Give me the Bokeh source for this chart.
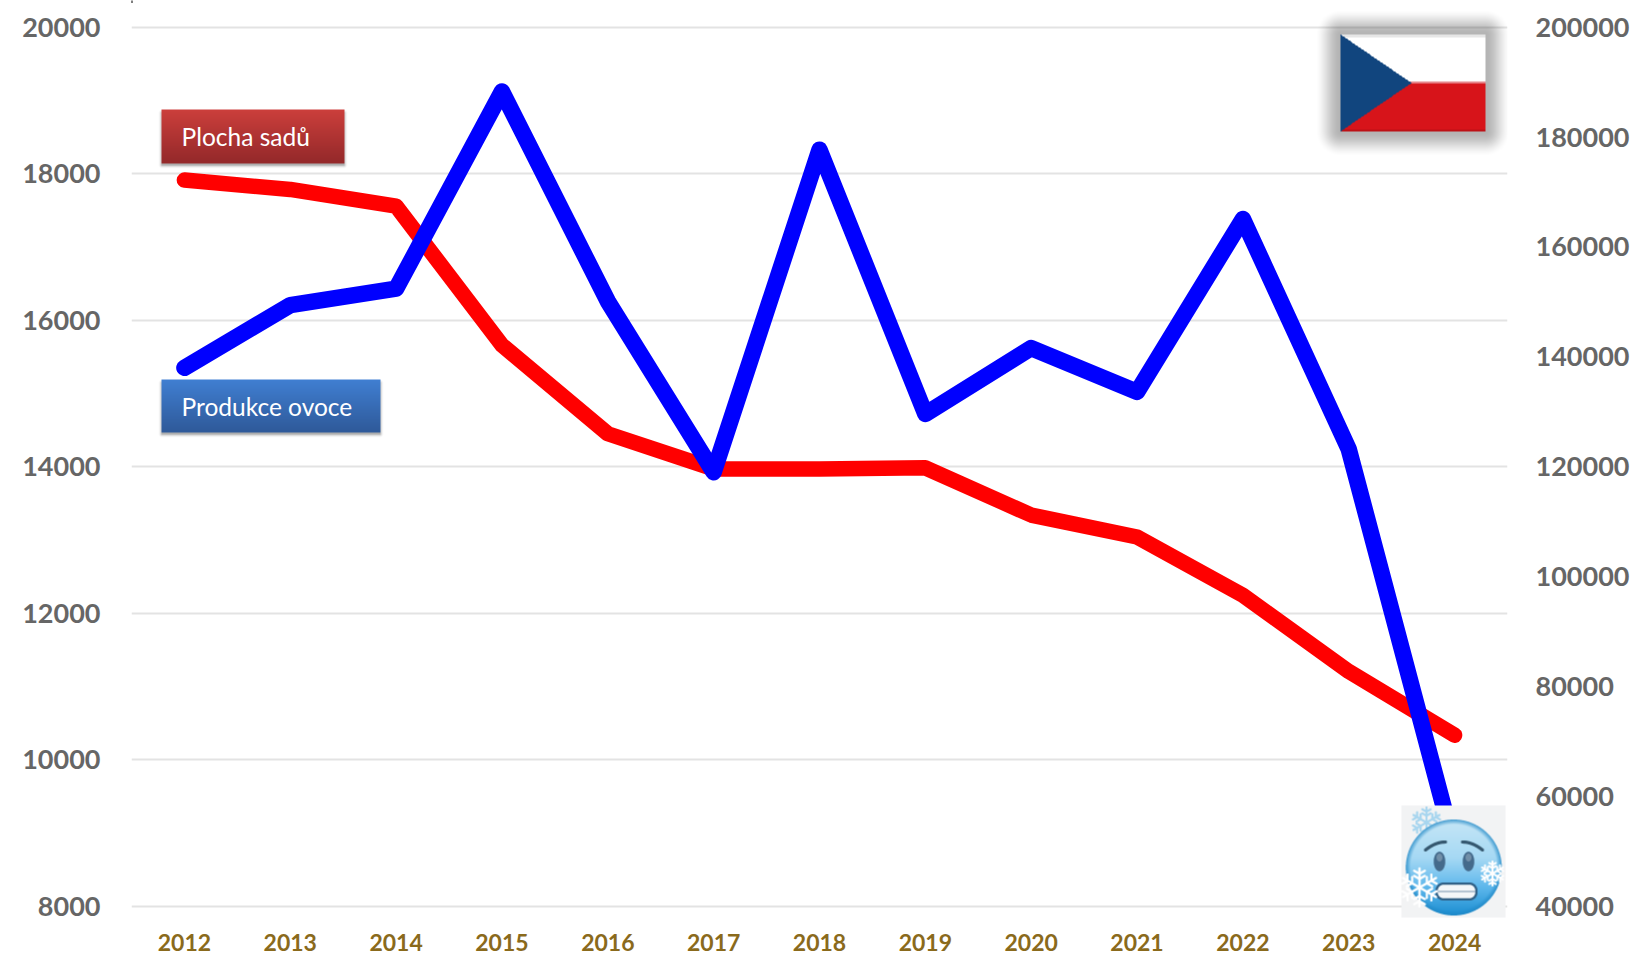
import numpy as np
from bokeh.embed import file_html
from bokeh.resources import INLINE
from bokeh.plotting import figure
from bokeh.models import Range1d, LinearAxis, FixedTicker, NumeralTickFormatter, Label, PolyAnnotation

years = [2012, 2013, 2014, 2015, 2016, 2017, 2018, 2019, 2020, 2021, 2022, 2023, 2024]
plocha_sadu = [17913, 17785, 17557, 15660, 14450, 13970, 13970, 13985, 13340, 13040, 12245, 11205, 10335]
produkce_ovoce = [138000, 149400, 152400, 188300, 150100, 119000, 177700, 129600, 141600, 133600, 165100, 123200, 50600]
left_ticks = [8000, 10000, 12000, 14000, 16000, 18000, 20000]
right_ticks = [40000, 60000, 80000, 100000, 120000, 140000, 160000, 180000, 200000]
label_red = "Plocha sadů"
label_blue = "Produkce ovoce"

# page geometry (pixels in the picture)
PX_L, PX_R = 131.0, 1507.0
PY_TOP, PY_BOT = 0.0, 918.0
PY_20K, PY_8K = 26.7, 905.7
FIG_W, FIG_H = 1637, 958


def yval(py):
    return 8000 + (PY_8K - py) * 12000 / (PY_8K - PY_20K)


def yval2(py):
    return 40000 + (PY_8K - py) * 160000 / (PY_8K - PY_20K)


def xval(px):
    return 2011.5 + (px - PX_L) * 13 / (PX_R - PX_L)


p = figure(width=FIG_W, height=FIG_H, output_backend="svg", toolbar_location=None,
           x_range=Range1d(2011.5, 2024.5), y_range=Range1d(yval(PY_BOT), yval(PY_TOP)),
           frame_width=int(PX_R - PX_L), frame_height=int(PY_BOT - PY_TOP),
           min_border_left=int(PX_L), min_border_right=int(FIG_W - PX_R),
           min_border_top=0, min_border_bottom=int(FIG_H - PY_BOT))
p.outline_line_color = None
p.background_fill_color = "white"
p.xgrid.visible = False
p.ygrid.ticker = FixedTicker(ticks=left_ticks)
p.ygrid.grid_line_color = "#e3e3e3"
p.ygrid.grid_line_width = 2

p.extra_y_ranges = {"right": Range1d(yval2(PY_BOT), yval2(PY_TOP))}
right = LinearAxis(y_range_name="right")
p.add_layout(right, "right")

for ax, ticks, standoff in ((p.yaxis[0], left_ticks, 25), (right, right_ticks, 22)):
    ax.ticker = FixedTicker(ticks=ticks)
    ax.formatter = NumeralTickFormatter(format="0")
    ax.axis_line_color = None
    ax.major_tick_line_color = None
    ax.minor_tick_line_color = None
    ax.major_label_text_font = "Lato"
    ax.major_label_text_font_style = "bold"
    ax.major_label_text_font_size = "27px"
    ax.major_label_text_color = "#666666"
    ax.major_label_standoff = standoff

xa = p.xaxis[0]
xa.ticker = FixedTicker(ticks=years)
xa.formatter = NumeralTickFormatter(format="0")
xa.axis_line_color = None
xa.major_tick_line_color = None
xa.minor_tick_line_color = None
xa.major_label_text_font = "Lato"
xa.major_label_text_font_style = "bold"
xa.major_label_text_font_size = "23px"
xa.major_label_text_color = "#8a6a1c"
xa.major_label_standoff = 9

p.line(years, plocha_sadu, line_color="#ff0000", line_width=15.5, line_cap="round", line_join="round")
p.line(years, produkce_ovoce, line_color="#0000ff", line_width=16.5, line_cap="round", line_join="round",
       y_range_name="right")


def place(img, px0, py0):
    """img: float array h x w x 4 in 0..1 with row 0 at the top of the screen."""
    h, w = img.shape[:2]
    arr = (np.clip(img, 0, 1) * 255).astype(np.uint8)[::-1]
    rgba = arr[..., 0].astype(np.uint32) | (arr[..., 1].astype(np.uint32) << 8) | \
        (arr[..., 2].astype(np.uint32) << 16) | (arr[..., 3].astype(np.uint32) << 24)
    p.image_rgba(image=[rgba], x=[xval(px0)], y=[yval(py0 + h)],
                 dw=[xval(px0 + w) - xval(px0)], dh=[yval(py0) - yval(py0 + h)])


def rgb(h):
    return np.array([int(h[i:i + 2], 16) / 255 for i in (1, 3, 5)])


def over(img, mask, color):
    m = mask[..., None]
    col = np.broadcast_to(color, img.shape[:2] + (3,))
    a = img[..., 3:4]
    out_a = m + a * (1 - m)
    safe = np.where(out_a > 0, out_a, 1)
    img[..., :3] = (col * m + img[..., :3] * a * (1 - m)) / safe
    img[..., 3:4] = out_a


# ---- legend boxes with gradient and soft shadow (falling downwards)
def box(x0, y0, x1, y1, top, bot):
    pad = 7
    W, H = int(x1 - x0) + 2 * pad, int(y1 - y0) + 2 * pad
    yy, xx = np.mgrid[0:H, 0:W]
    dx = np.maximum(np.maximum(pad - xx, xx - (W - pad - 1)), 0)
    dy = np.maximum(np.maximum(pad + 3 - yy, yy - (H - pad + 1)), 0)
    d = np.hypot(dx, dy)
    img = np.zeros((H, W, 4))
    over(img, 0.32 * np.clip(1 - d / 4, 0, 1) ** 2, np.zeros(3))
    inside = ((xx >= pad) & (xx < W - pad) & (yy >= pad) & (yy < H - pad)).astype(float)
    t = np.clip((yy - pad) / (H - 2 * pad - 1), 0, 1)[..., None]
    col = rgb(top) * (1 - t) + rgb(bot) * t
    over(img, inside, col)
    place(img, int(x0) - pad, int(y0) - pad)


box(161, 109, 344, 163, "#cc3f3c", "#94292a")
box(161, 379, 380, 432, "#407fd2", "#2f5a9a")

for txt, py, in ((label_red, 136.0), (label_blue, 406.0)):
    p.add_layout(Label(x=xval(181), y=yval(py), text=txt, text_color="white", text_font="Lato",
                       text_font_size="24.5px", text_baseline="middle", text_align="left"))


# ---- flag with soft shadow
def flag():
    x0, y0, x1, y1 = 1340, 34, 1485, 131
    pad = 28
    W, H = x1 - x0 + 2 * pad, y1 - y0 + 2 * pad
    yy, xx = np.mgrid[0:H, 0:W]
    xs = xx - pad + 0.5
    ys = yy - pad + 0.5
    fw, fh = x1 - x0, y1 - y0
    dx = np.maximum(np.maximum(-xs, xs - fw), 0)
    dy = np.maximum(np.maximum(-ys, ys - fh), 0)
    d = np.hypot(dx, dy)
    img = np.zeros((H, W, 4))
    s = np.clip(1 - d / 26, 0, 1)
    over(img, 0.30 * s * s * (3 - 2 * s), np.zeros(3))
    inside = ((xs >= 0) & (xs < fw) & (ys >= 0) & (ys < fh)).astype(float)
    over(img, inside, rgb("#ffffff"))
    over(img, inside * (ys < 3), rgb("#e6e6e6"))
    over(img, inside * (ys >= 47) * (ys < 49), rgb("#e6858a"))
    over(img, inside * (ys >= 49), rgb("#d7141a"))
    over(img, inside * (ys >= fh - 2), rgb("#bd1116"))
    tri = (xs < 71 * (1 - np.abs(ys - 48.5) / 48.5)).astype(float)
    over(img, inside * tri, rgb("#11457e"))
    place(img, x0 - pad, y0 - pad)


flag()


# ---- cold-face emoji
def emoji():
    S = 4
    x0, y0, x1, y1 = 1401, 805, 1505, 917
    W, H = (x1 - x0) * S, (y1 - y0) * S
    yy, xx = np.mgrid[0:H, 0:W]
    X = x0 + (xx + 0.5) / S
    Y = y0 + (yy + 0.5) / S
    img = np.zeros((H, W, 4))
    img[..., :3] = rgb("#f2f3f4")
    img[..., 3] = 1

    def seg(ax, ay, bx, by, w):
        vx, vy = bx - ax, by - ay
        t = np.clip(((X - ax) * vx + (Y - ay) * vy) / (vx * vx + vy * vy), 0, 1)
        return (np.hypot(X - ax - t * vx, Y - ay - t * vy) <= w / 2).astype(float)

    def flake(cx, cy, r, col, w):
        m = np.zeros(X.shape)
        for k in range(6):
            a = k * np.pi / 3 + np.pi / 2
            ux, uy = np.cos(a), np.sin(a)
            m = np.maximum(m, seg(cx, cy, cx + r * ux, cy + r * uy, w))
            for f in (0.45, 0.72):
                bx, by = cx + f * r * ux, cy + f * r * uy
                for s in (-1, 1):
                    a2 = a + s * np.pi / 3
                    m = np.maximum(m, seg(bx, by, bx + 0.32 * r * np.cos(a2), by + 0.32 * r * np.sin(a2), w))
        over(img, m, rgb(col))

    flake(1426, 822, 15, "#a8d6ef", 2.2)

    cx, cy, R = 1453.3, 867, 48
    dist = np.hypot(X - cx, Y - cy)
    t = np.clip((Y - (cy - R)) / (2 * R), 0, 1)[..., None]
    stops = [rgb("#c6e6f6"), rgb("#a6d9f4"), rgb("#5fb8ec"), rgb("#1b8ed2")]
    col = np.where(t < 0.4, stops[0] + (stops[1] - stops[0]) * t / 0.4,
                   np.where(t < 0.7, stops[1] + (stops[2] - stops[1]) * (t - 0.4) / 0.3,
                            stops[2] + (stops[3] - stops[2]) * (t - 0.7) / 0.3))
    rim = np.clip((dist - (R - 5)) / 5, 0, 1)[..., None] * 0.8
    col = col * (1 - rim) + rgb("#2088c6") * rim
    over(img, (dist <= R).astype(float), col)

    # worried brows: inner ends high, outer ends low
    for bx, sgn in ((1435, 1), (1472, -1)):
        ts = np.linspace(-1, 1, 13)
        m = np.zeros(X.shape)

        def f(u):
            return (bx + 10 * u, 845.5 - 4 * sgn * u - 2 * (1 - u * u))

        for a, b in zip(ts[:-1], ts[1:]):
            m = np.maximum(m, seg(*f(a), *f(b), 3.2))
        over(img, m, rgb("#35586f"))
    # eyes
    for ex in (1439, 1468):
        e = ((X - ex) / 5.8) ** 2 + ((Y - 861) / 9.8) ** 2 <= 1
        over(img, e.astype(float), rgb("#446a8c"))
        hl = ((X - ex) / 3) ** 2 + ((Y - 857) / 4) ** 2 <= 1
        over(img, hl.astype(float) * 0.25, rgb("#ffffff"))
    # mouth: rounded rectangle
    mx0, mx1, my0, my1 = 1435, 1477, 882, 900

    def rrect(a, b, c, d, r):
        qx = np.abs(X - (a + b) / 2) - (b - a) / 2 + r
        qy = np.abs(Y - (c + d) / 2) - (d - c) / 2 + r
        return np.hypot(np.maximum(qx, 0), np.maximum(qy, 0)) + np.minimum(np.maximum(qx, qy), 0) - r <= 0

    over(img, rrect(mx0, mx1, my0, my1, 8).astype(float), rgb("#2f5f85"))
    over(img, rrect(mx0 + 2.2, mx1 - 2.2, my0 + 2.2, my1 - 2.2, 6).astype(float), rgb("#f4f7f9"))
    over(img, seg(mx0 + 3, 891, mx1 - 3, 891, 1.4), rgb("#9fb4c5"))

    flake(1419, 887, 19, "#ffffff", 2.4)
    flake(1492, 873, 12, "#ffffff", 2.0)

    small = img.reshape(y1 - y0, S, x1 - x0, S, 4).mean(axis=(1, 3))
    place(small, x0, y0)


emoji()

# cropped slivers along the picture's edges
for l, r, t, b, c in ((6, 132, -1, 2.5, "#000000"), (1540, 1638, -1, 1.5, "#000000"), (10, 1638, 956, 959, "#e3e3e3")):
    p.add_layout(PolyAnnotation(xs=[xval(l), xval(r), xval(r), xval(l)], ys=[yval(t), yval(t), yval(b), yval(b)],
                                fill_color=c, fill_alpha=1, line_color=None))

open("out.html", "w").write(file_html(p, INLINE))
